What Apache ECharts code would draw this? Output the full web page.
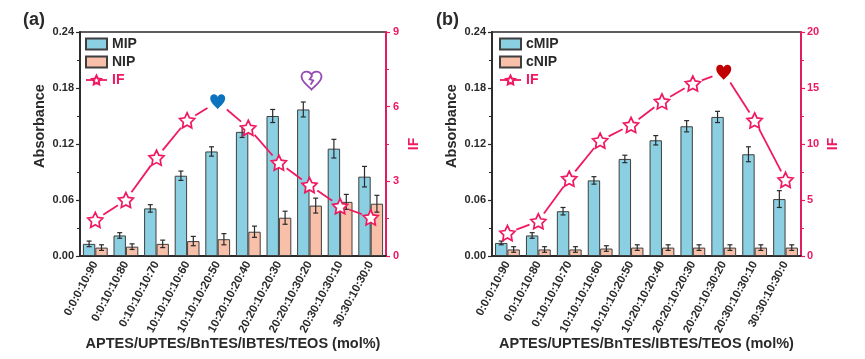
<!DOCTYPE html>
<html><head><meta charset="utf-8">
<script src="https://cdn.jsdelivr.net/npm/echarts@6/dist/echarts.min.js"></script>
<style>html,body{margin:0;background:#fff}#c{width:865px;height:359px}</style></head>
<body><div id="c"></div>
<script>
const categories = ['0:0:0:10:90','0:0:10:10:80','0:10:10:10:70','10:10:10:10:60','10:10:10:20:50','10:20:10:20:40','20:20:10:20:30','20:20:10:30:20','20:30:10:30:10','30:30:10:30:0'];
const mip = [0.013,0.022,0.051,0.086,0.112,0.133,0.150,0.157,0.115,0.085];
const mipErr = [0.003,0.003,0.004,0.005,0.005,0.006,0.007,0.008,0.010,0.011];
const nip = [0.009,0.010,0.013,0.016,0.018,0.026,0.041,0.054,0.058,0.056];
const nipErr = [0.003,0.003,0.004,0.005,0.006,0.006,0.007,0.008,0.008,0.009];
const ifA = [1.45,2.25,3.95,5.45,6.2,5.15,3.75,2.85,2.0,1.55];
const cmip = [0.014,0.022,0.048,0.081,0.104,0.124,0.139,0.149,0.109,0.061];
const cmipErr = [0.002,0.003,0.004,0.004,0.004,0.005,0.006,0.006,0.008,0.009];
const cnip = [0.007,0.007,0.007,0.008,0.009,0.009,0.009,0.009,0.009,0.009];
const cnipErr = [0.003,0.003,0.003,0.003,0.003,0.003,0.003,0.003,0.003,0.003];
const ifB = [2.05,3.1,6.9,10.3,11.7,13.8,15.4,16.4,12.1,6.8];
const brokenHeartIndex = 7, brokenHeartIF = 7.05;

const PINK='#f0195f', DARK='#2a2a2a', BLUE='#8bd0e2', PEACH='#f8bfa9', FONT='"Liberation Sans"';
const HEART='path://M50 92C42 80 4 56 4 28C4 12 16 4 28 4C38 4 46 10 50 20C54 10 62 4 72 4C84 4 96 12 96 28C96 56 58 80 50 92Z';
const BROKEN=HEART+'M54 22L42 42L58 48L46 68';
const STAR='path://M50 2L64.7 31.8L97.6 36.5L73.8 59.7L79.4 92.5L50 77L20.6 92.5L26.2 59.7L2.4 36.5L35.3 31.8Z';

function errorSeries(vals, errs, side, xi, yi){
  return {type:'custom', xAxisIndex:xi, yAxisIndex:yi, z:4, silent:true,
    data: vals.map((v,i)=>[i,v,errs[i]]),
    renderItem(p,api){
      const i=api.value(0), v=api.value(1), e=api.value(2);
      const c=api.coord([i,v]), hi=api.coord([i,v+e]), lo=api.coord([i,v-e]);
      const x=c[0]+side*6.2, cap=2.5;
      const st={stroke:DARK,lineWidth:1.2,fill:null};
      return {type:'group',children:[
        {type:'line',shape:{x1:x,y1:hi[1],x2:x,y2:lo[1]},style:st},
        {type:'line',shape:{x1:x-cap,y1:hi[1],x2:x+cap,y2:hi[1]},style:st},
        {type:'line',shape:{x1:x-cap,y1:lo[1],x2:x+cap,y2:lo[1]},style:st}
      ]};
    }};
}
function gappedLine(vals, xi, yi, heartIdx){
  return {type:'custom', xAxisIndex:xi, yAxisIndex:yi, z:5, silent:true,
    data: vals.slice(0,-1).map((v,i)=>[i,v,vals[i+1]]),
    renderItem(p,api){
      const i=api.value(0);
      const a=api.coord([i,api.value(1)]), b=api.coord([i+1,api.value(2)]);
      const dx=b[0]-a[0], dy=b[1]-a[1], L=Math.hypot(dx,dy);
      const ga=i===heartIdx?12:9.5, gb=i+1===heartIdx?12:9.5;
      return {type:'line',shape:{x1:a[0]+dx/L*ga,y1:a[1]+dy/L*ga,x2:b[0]-dx/L*gb,y2:b[1]-dy/L*gb},
        style:{stroke:PINK,lineWidth:1.8,fill:null}};
    }};
}
function panel(n,bar1,bar2,names,ifv,ifMax,ifInt,left,right,heartIdx,heartColor,extra){
  const xi=n, yi=n*2, yr=n*2+1;
  const stars={name:'IF',type:'line',xAxisIndex:xi,yAxisIndex:yr,z:6,silent:true,showSymbol:true,
    symbol:STAR,symbolSize:15,
    lineStyle:{opacity:0,width:0},
    itemStyle:{color:'#fff',borderColor:PINK,borderWidth:1.7},
    data:ifv.map((v,i)=>i===heartIdx?{value:v,symbol:HEART,symbolSize:[15,15],
       itemStyle:{color:heartColor,borderColor:heartColor,borderWidth:0}}:v)};
  const s=[
    {name:names[0],type:'bar',xAxisIndex:xi,yAxisIndex:yi,data:bar1,barWidth:12.4,barGap:0,z:2,silent:true,
      itemStyle:{color:BLUE,borderColor:'#3f3f3f',borderWidth:1}},
    {name:names[1],type:'bar',xAxisIndex:xi,yAxisIndex:yi,data:bar2,barWidth:12.4,barGap:0,z:2,silent:true,
      itemStyle:{color:PEACH,borderColor:'#3f3f3f',borderWidth:1}},
    errorSeries(bar1,extra.e1,-1,xi,yi),
    errorSeries(bar2,extra.e2,1,xi,yi),
    gappedLine(ifv,xi,yr,heartIdx),
    stars
  ];
  const grid={left,right:865-right,top:32,height:224,show:true,borderColor:DARK,borderWidth:1.6,backgroundColor:'transparent',outerBoundsMode:'none'};
  const xAxis={type:'category',gridIndex:n,data:categories,
    axisLine:{lineStyle:{color:DARK,width:1.8},onZero:false},
    axisTick:{alignWithLabel:true,length:4,lineStyle:{color:DARK,width:1.2}},
    axisLabel:{rotate:62,interval:0,margin:6,color:'#2a2a2a',fontFamily:FONT,fontWeight:'bold',fontSize:11.5},
    name:'APTES/UPTES/BnTES/IBTES/TEOS (mol%)',nameLocation:'middle',nameGap:80,nameMoveOverlap:false,
    nameTextStyle:{color:DARK,fontFamily:FONT,fontWeight:'bold',fontSize:14.5,letterSpacing:0.88}};
  const yL={type:'value',gridIndex:n,min:0,max:0.24,interval:0.06,position:'left',
    axisLine:{show:true,lineStyle:{color:DARK,width:1.8}},
    axisTick:{show:true,length:4,lineStyle:{color:DARK,width:1.2}},
    minorTick:{show:true,splitNumber:2,length:3,lineStyle:{color:DARK,width:1}},
    splitLine:{show:false},
    axisLabel:{margin:6,formatter:v=>v.toFixed(2),color:DARK,fontFamily:FONT,fontWeight:'bold',fontSize:11},
    name:'Absorbance',nameLocation:'middle',nameGap:33,
    nameTextStyle:{color:DARK,fontFamily:FONT,fontWeight:'bold',fontSize:14.5,padding:[0,0,0,36]}};
  const yR={type:'value',gridIndex:n,min:0,max:ifMax,interval:ifInt,position:'right',
    axisLine:{show:true,lineStyle:{color:PINK,width:1.8}},
    axisTick:{show:true,length:4,lineStyle:{color:PINK,width:1.2}},
    minorTick:{show:true,splitNumber:2,length:3,lineStyle:{color:PINK,width:1}},
    splitLine:{show:false},
    axisLabel:{margin:n?6:7,color:PINK,fontFamily:FONT,fontWeight:'bold',fontSize:11},
    name:'IF',nameLocation:'middle',nameGap:n?25:21,nameRotate:90,
    nameTextStyle:{color:PINK,fontFamily:FONT,fontWeight:'bold',fontSize:14}};
  const legend={orient:'vertical',left:n?494:80,top:32,itemWidth:21,itemHeight:11,itemGap:4,
    data:[{name:names[0],icon:'rect'},{name:names[1],icon:'rect'},{name:'IF',textStyle:{color:PINK}}],
    lineStyle:{opacity:1,width:1.8,color:PINK},
    textStyle:{fontFamily:FONT,fontWeight:'bold',fontSize:14,color:DARK},selectedMode:false};
  return {s,grid,xAxis,yAxes:[yL,yR],legend};
}
const a=panel(0,mip,nip,['MIP','NIP'],ifA,9,3,80,386,4,'#0b72c0',{e1:mipErr,e2:nipErr});
const b=panel(1,cmip,cnip,['cMIP','cNIP'],ifB,20,5,492,801,7,'#c00000',{e1:cmipErr,e2:cnipErr});
const broken={type:'scatter',xAxisIndex:0,yAxisIndex:1,z:6,silent:true,
  symbol:BROKEN,symbolSize:[20,18],symbolOffset:[2,0],
  itemStyle:{color:'#fff',borderColor:'#7a1fa2',borderWidth:1.8},
  data:[[brokenHeartIndex,brokenHeartIF]]};
const chart=echarts.init(document.getElementById('c'),null,{renderer:'canvas'});
chart.setOption({animation:false,backgroundColor:'#fff',
  title:[{text:'(a)',left:18,top:6,textStyle:{fontFamily:FONT,fontWeight:'bold',fontSize:18,color:DARK}},
         {text:'(b)',left:431,top:6,textStyle:{fontFamily:FONT,fontWeight:'bold',fontSize:18,color:DARK}}],
  grid:[a.grid,b.grid],xAxis:[a.xAxis,b.xAxis],yAxis:[...a.yAxes,...b.yAxes],
  legend:[a.legend,b.legend],
  series:[...a.s,...b.s,broken]});
</script></body></html>
